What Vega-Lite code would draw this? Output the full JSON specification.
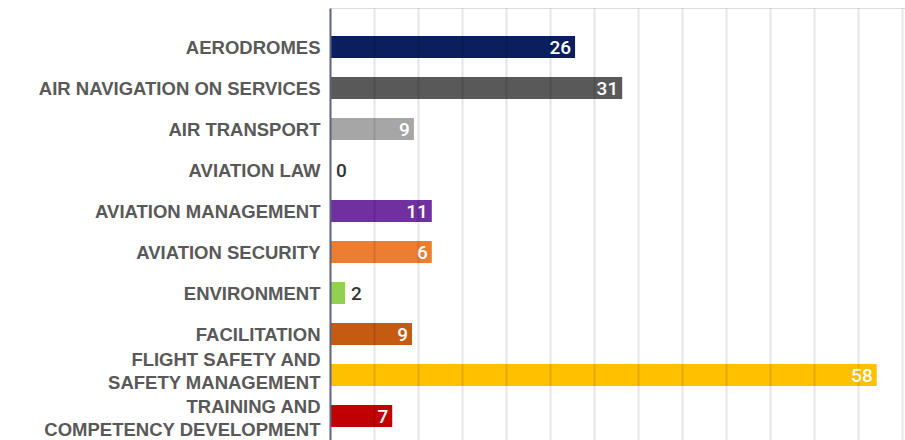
{
  "$schema": "https://vega.github.io/schema/vega-lite/v6.json",
  "width": 575,
  "height": 432,
  "autosize": "none",
  "padding": {"left": 330, "top": 8, "right": 0, "bottom": 0},
  "background": "white",
  "data": {
    "values": [
      {"cat": "AERODROMES", "n": 26, "len": 26},
      {"cat": "AIR NAVIGATION ON SERVICES", "n": 31, "len": 31},
      {"cat": "AIR TRANSPORT", "n": 9, "len": 8.9},
      {"cat": "AVIATION LAW", "n": 0, "len": 0},
      {"cat": "AVIATION MANAGEMENT", "n": 11, "len": 10.8},
      {"cat": "AVIATION SECURITY", "n": 6, "len": 10.8},
      {"cat": "ENVIRONMENT", "n": 2, "len": 1.6},
      {"cat": "FACILITATION", "n": 9, "len": 8.7},
      {"cat": "FLIGHT SAFETY AND |SAFETY MANAGEMENT", "n": 58, "len": 58},
      {"cat": "TRAINING AND |COMPETENCY DEVELOPMENT", "n": 7, "len": 6.6}
    ]
  },
  "encoding": {
    "y": {
      "field": "cat",
      "type": "nominal",
      "sort": null,
      "scale": {"paddingInner": 0.463, "paddingOuter": 0.5, "align": 0.683},
      "axis": {
        "title": null,
        "ticks": false,
        "domainColor": "#5b6283",
        "domainWidth": 2,
        "labelPadding": 10,
        "labelLimit": 400,
        "labelFont": "Liberation Sans",
        "labelFontSize": 18.5,
        "labelFontWeight": "bold",
        "labelColor": "#595959",
        "labelLineHeight": 23,
        "labelExpr": "split(datum.value, '|')",
        "labelOffset": {"condition": [{"test": "indexof(datum.value, 'FLIGHT') >= 0", "value": -15}, {"test": "indexof(datum.value, 'TRAINING') >= 0", "value": -9}], "value": 1},
        "zindex": 2
      }
    }
  },
  "layer": [
    {
      "mark": {"type": "bar"},
      "encoding": {
        "x": {
          "field": "len",
          "type": "quantitative",
          "scale": {"domain": [0, 61], "nice": false, "zero": true},
          "axis": {
            "title": null,
            "labels": false,
            "ticks": false,
            "domain": false,
            "grid": true,
            "gridColor": "#000000",
            "gridOpacity": 0.1,
            "gridWidth": 2,
            "values": [4.67, 9.34, 14.0, 18.68, 23.35, 28.0, 32.7, 37.36, 42.0, 46.7, 51.37, 56.0, 60.7],
            "zindex": 1
          }
        },
        "color": {
          "field": "cat",
          "type": "nominal",
          "legend": null,
          "scale": {
            "domain": ["AERODROMES", "AIR NAVIGATION ON SERVICES", "AIR TRANSPORT", "AVIATION LAW", "AVIATION MANAGEMENT", "AVIATION SECURITY", "ENVIRONMENT", "FACILITATION", "FLIGHT SAFETY AND |SAFETY MANAGEMENT", "TRAINING AND |COMPETENCY DEVELOPMENT"],
            "range": ["#0b1f5e", "#595959", "#a6a6a6", "#4472c4", "#7030a0", "#ed7d31", "#92d050", "#c55a11", "#ffc000", "#c00000"]
          }
        }
      }
    },
    {
      "transform": [{"filter": "datum.n >= 5"}],
      "mark": {"type": "text", "align": "right", "baseline": "middle", "dx": -4, "dy": 1, "font": "Roboto", "fontSize": 19, "fontWeight": 500, "color": "white"},
      "encoding": {
        "x": {"field": "len", "type": "quantitative"},
        "text": {"field": "n", "type": "quantitative"}
      }
    },
    {
      "transform": [{"filter": "datum.n < 5"}],
      "mark": {"type": "text", "align": "left", "baseline": "middle", "dx": 6, "dy": 1, "font": "Roboto", "fontSize": 19, "fontWeight": 500, "color": "#333333"},
      "encoding": {
        "x": {"field": "len", "type": "quantitative"},
        "text": {"field": "n", "type": "quantitative"}
      }
    }
  ]
}
